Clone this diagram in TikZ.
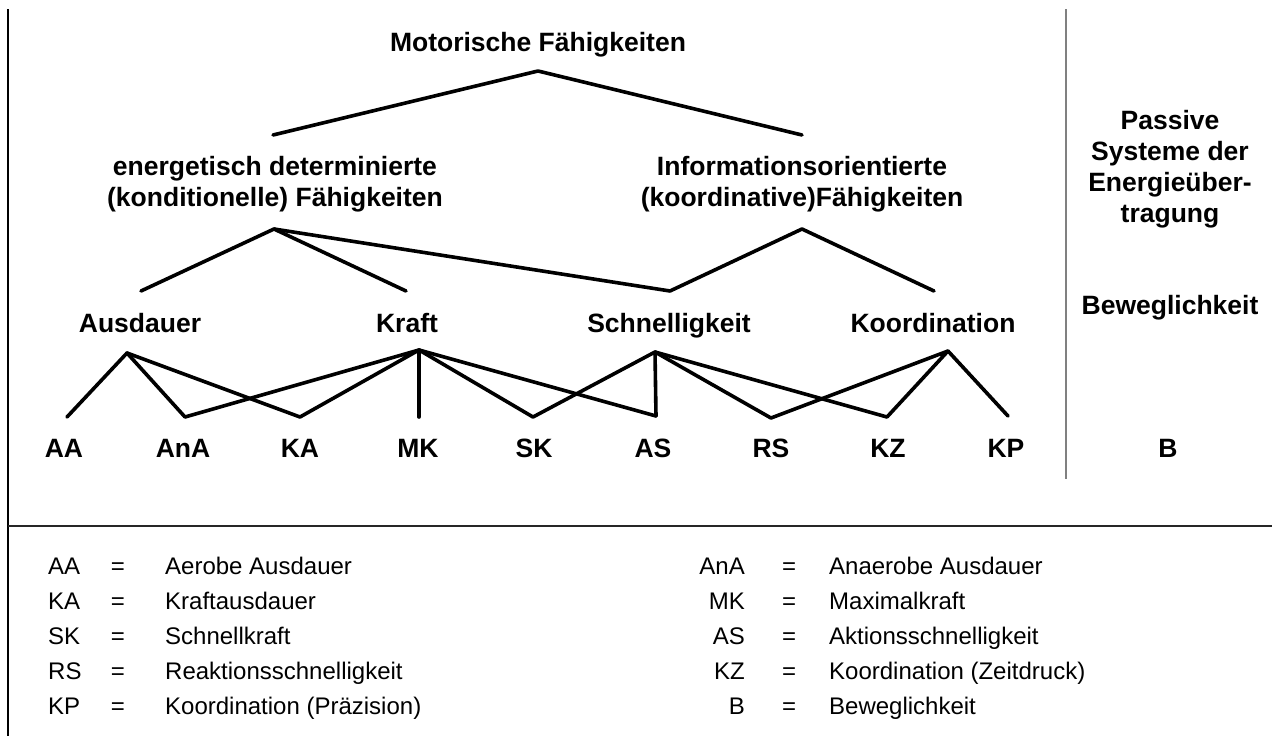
\documentclass[tikz,border=0pt]{standalone}
\usepackage{fontspec}
\setmainfont{Liberation Sans}
\begin{document}
\begin{tikzpicture}[x=1pt,y=-1pt,
  lbl/.style={font=\fontsize{26.5}{31}\selectfont\bfseries, inner sep=0pt, anchor=base},
  mlbl/.style={font=\fontsize{26.5}{31}\selectfont\bfseries, inner sep=0pt, align=center, anchor=center},
  conn/.style={line width=3.6pt, black, line cap=round, line join=round},
  leg/.style={font=\fontsize{24}{28}\selectfont, inner sep=0pt, anchor=base west},
  legr/.style={font=\fontsize{24}{28}\selectfont, inner sep=0pt, anchor=base east},
  legeq/.style={font=\fontsize{24}{28}\selectfont, inner sep=0pt, anchor=base}]
\useasboundingbox (0,0) rectangle (1272,736);
\fill[white] (0,0) rectangle (1272,736);
% frame lines
\coordinate (lt) at (8,9);
\coordinate (lb) at (8,736);
\coordinate (hl) at (8,526);
\coordinate (hr) at (1272,526);
\coordinate (vt) at (1066,9);
\coordinate (vb) at (1066,479);
\draw[line width=1.5pt] (lt) -- (lb);
\draw[line width=1.3pt, black!85] (hl) -- (hr);
\draw[line width=2pt, black!50] (vt) -- (vb);
% texts
\node[lbl] (mot) at (538,51) {Motorische Fähigkeiten};
\node[mlbl] (ene) at (275,184) {energetisch determinierte\\(konditionelle) Fähigkeiten};
\node[mlbl] (inf) at (802,184) {Informationsorientierte\\(koordinative)Fähigkeiten};
\node[lbl] (aus) at (140,332) {Ausdauer};
\node[lbl] (kra) at (407,332) {Kraft};
\node[lbl] (sch) at (669,332) {Schnelligkeit};
\node[lbl] (koo) at (933,332) {Koordination};
\node[mlbl] (pas) at (1170,169) {Passive\\Systeme der\\Energieüber-\\tragung};
\node[lbl] (bew) at (1170,314) {Beweglichkeit};
\node[lbl] (AA) at (64,457) {AA};
\node[lbl] (AnA) at (183,457) {AnA};
\node[lbl] (KA) at (300,457) {KA};
\node[lbl] (MK) at (418,457) {MK};
\node[lbl] (SK) at (534,457) {SK};
\node[lbl] (AS) at (653,457) {AS};
\node[lbl] (RS) at (771,457) {RS};
\node[lbl] (KZ) at (888,457) {KZ};
\node[lbl] (KP) at (1006,457) {KP};
\node[lbl] (B) at (1168,457) {B};
% connector points
\coordinate (motA) at (538,71);
\coordinate (eneT) at (273,135);
\coordinate (infT) at (802,135);
\coordinate (eneA) at (274,229);
\coordinate (infA) at (802,229);
\coordinate (ausT) at (141,291);
\coordinate (kraT) at (406,291);
\coordinate (schT) at (670,291);
\coordinate (kooT) at (934,291);
\coordinate (ausA) at (127,353);
\coordinate (kraA) at (419,350);
\coordinate (schA) at (655,352);
\coordinate (kooA) at (948,351);
\coordinate (AAt) at (67,417);
\coordinate (AnAt) at (185,417);
\coordinate (KAt) at (300,417);
\coordinate (MKt) at (419,417);
\coordinate (SKt) at (533,417);
\coordinate (ASt) at (656,416);
\coordinate (RSt) at (771,418);
\coordinate (KZt) at (887,417);
\coordinate (KPt) at (1008,416);
% connectors
\draw[conn] (eneT) -- (motA) -- (infT);
\draw[conn] (ausT) -- (eneA) -- (kraT);
\draw[conn] (eneA) -- (schT) -- (infA) -- (kooT);
\draw[conn] (AAt) -- (ausA) -- (AnAt);
\draw[conn] (ausA) -- (KAt);
\draw[conn] (AnAt) -- (kraA) -- (KAt);
\draw[conn] (kraA) -- (MKt);
\draw[conn] (kraA) -- (SKt);
\draw[conn] (kraA) -- (ASt);
\draw[conn] (SKt) -- (schA) -- (ASt);
\draw[conn] (schA) -- (RSt);
\draw[conn] (schA) -- (KZt);
\draw[conn] (RSt) -- (kooA) -- (KZt);
\draw[conn] (kooA) -- (KPt);
% legend
\foreach \ab/\txt/\yy [count=\i] in {AA/Aerobe Ausdauer/574, KA/Kraftausdauer/609, SK/Schnellkraft/644, RS/Reaktionsschnelligkeit/679, KP/Koordination (Präzision)/714}{
  \node[leg] (la\i) at (48,\yy) {\ab};
  \node[legeq] (le\i) at (118,\yy) {=};
  \node[leg] (ld\i) at (165,\yy) {\txt};
}
\foreach \ab/\txt/\yy [count=\i] in {AnA/Anaerobe Ausdauer/574, MK/Maximalkraft/609, AS/Aktionsschnelligkeit/644, KZ/Koordination (Zeitdruck)/679, B/Beweglichkeit/714}{
  \node[legr] (ra\i) at (745,\yy) {\ab};
  \node[legeq] (re\i) at (789,\yy) {=};
  \node[leg] (rd\i) at (829,\yy) {\txt};
}
\end{tikzpicture}
\end{document}
